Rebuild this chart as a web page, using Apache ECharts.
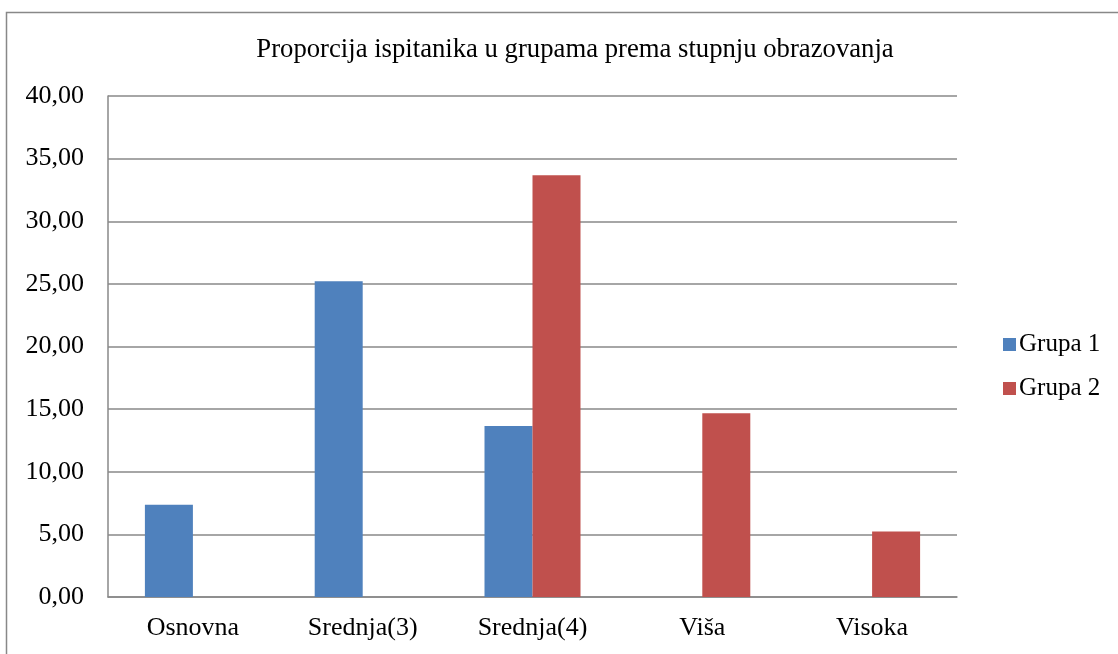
<!DOCTYPE html>
<html>
<head>
<meta charset="utf-8">
<script src="https://cdn.jsdelivr.net/npm/echarts@6/dist/echarts.min.js"></script>
<style>
html,body{margin:0;padding:0;background:#fff;}
#chart{width:1118px;height:654px;}
</style>
</head>
<body>
<div id="chart"></div>
<script>
const categories = ['Osnovna', 'Srednja(3)', 'Srednja(4)', 'Viša', 'Visoka'];
const grupa1 = [7.36, 25.2, 13.65, 0, 0];
const grupa2 = [0, 0, 33.67, 14.68, 5.22];
const seriesNames = ['Grupa 1', 'Grupa 2'];
const titleText = 'Proporcija ispitanika u grupama prema stupnju obrazovanja';

const FONT = '"Liberation Serif", "Times New Roman", serif';
const chart = echarts.init(document.getElementById('chart'), null, {renderer: 'canvas'});
chart.setOption({
  animation: false,
  backgroundColor: '#fff',
  graphic: [{
    type: 'rect', left: 4, top: 10, z: -1,
    shape: {width: 1200, height: 800},
    style: {fill: 'none', stroke: '#888', lineWidth: 1.5}
  }],
  title: {
    text: titleText,
    left: 570, top: 31, textAlign: 'center',
    textStyle: {fontFamily: FONT, fontSize: 26.7, fontWeight: 'normal', color: '#000'}
  },
  legend: {
    orient: 'vertical',
    left: 998, top: 327,
    itemWidth: 13, itemHeight: 13, itemGap: 19,
    icon: 'rect',
    textStyle: {fontFamily: FONT, fontSize: 25, color: '#000', padding: [0,0,0,-2]},
    data: seriesNames
  },
  grid: {left: 108, right: 1118 - 957, top: 96, bottom: 654 - 597, containLabel: false},
  xAxis: {
    type: 'category',
    data: categories,
    axisLine: {lineStyle: {color: '#888', width: 1.5}},
    axisTick: {show: false},
    axisLabel: {fontFamily: FONT, fontSize: 26, color: '#000', margin: 18}
  },
  yAxis: {
    type: 'value', min: 0, max: 40, interval: 5,
    axisLine: {show: true, lineStyle: {color: '#888', width: 1.5}},
    axisTick: {show: false},
    splitLine: {lineStyle: {color: '#888', width: 1.5}},
    axisLabel: {
      fontFamily: FONT, fontSize: 26, color: '#000', margin: 24,
      formatter: v => v.toFixed(2).replace('.', ',')
    }
  },
  series: [
    {name: seriesNames[0], type: 'bar', data: grupa1, barWidth: 48, barGap: '0%', itemStyle: {color: '#4F81BD'}},
    {name: seriesNames[1], type: 'bar', data: grupa2, barWidth: 48, barGap: '0%', itemStyle: {color: '#C0504D'}}
  ]
});
</script>
</body>
</html>
